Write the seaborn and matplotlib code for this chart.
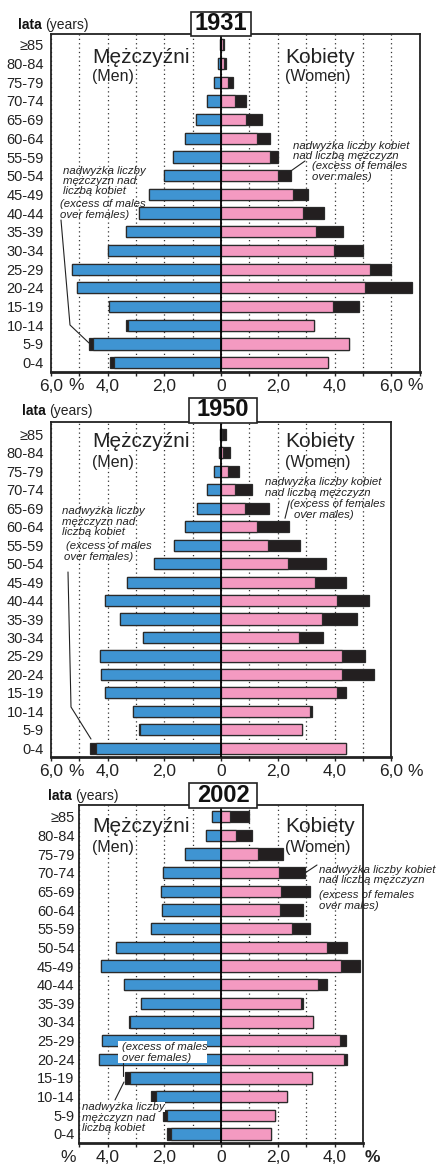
import matplotlib
matplotlib.use("Agg")
import matplotlib.pyplot as plt
import seaborn as sns
import pandas as pd
from matplotlib.lines import Line2D
from matplotlib.patches import Rectangle

ages = ["≥85", "80-84", "75-79", "70-74", "65-69", "60-64", "55-59", "50-54", "45-49",
        "40-44", "35-39", "30-34", "25-29", "20-24", "15-19", "10-14", "5-9", "0-4"]

# share of population in % (top row = oldest)
men_1931 = [0.05, 0.10, 0.25, 0.49, 0.89, 1.27, 1.71, 2.02, 2.54,
            2.89, 3.36, 3.99, 5.25, 5.07, 3.96, 3.36, 4.66, 3.92]
women_1931 = [0.10, 0.17, 0.42, 0.89, 1.44, 1.73, 2.02, 2.46, 3.06,
              3.64, 4.31, 5.02, 5.99, 6.74, 4.88, 3.28, 4.51, 3.77]

men_1950 = [0.03, 0.07, 0.25, 0.48, 0.85, 1.26, 1.66, 2.35, 3.32,
            4.08, 3.55, 2.75, 4.27, 4.25, 4.08, 3.12, 2.91, 4.62]
women_1950 = [0.16, 0.31, 0.64, 1.09, 1.68, 2.38, 2.80, 3.69, 4.39,
              5.21, 4.81, 3.61, 5.08, 5.38, 4.39, 3.21, 2.87, 4.42]

men_2002 = [0.32, 0.52, 1.29, 2.05, 2.12, 2.08, 2.49, 3.72, 4.22,
            3.41, 2.82, 3.24, 4.19, 4.32, 3.39, 2.46, 2.04, 1.92]
women_2002 = [0.99, 1.08, 2.18, 2.96, 3.13, 2.88, 3.15, 4.45, 4.89,
              3.74, 2.87, 3.23, 4.39, 4.44, 3.22, 2.31, 1.91, 1.77]

BLUE = "#3f94d2"
PINK = "#f49ac1"
BLACK = "#231f20"
EDGE = "#2a2a2a"

W, H = 436, 1166

sns.set_theme(style="white")
plt.rcParams["font.family"] = ["Liberation Sans", "DejaVu Sans"]

fig = plt.figure(figsize=(W / 100, H / 100), dpi=100)


def fx(x):
    return x / W


def fy(y):
    return 1 - y / H


def add_axes(left, right, top, bottom):
    return fig.add_axes([fx(left), fy(bottom), (right - left) / W, (bottom - top) / H])


def pyramid(ax, men, women, xlim, ylim, label_pad):
    df = pd.DataFrame({"age": ages, "men": men, "women": women})
    df["common"] = df[["men", "women"]].min(axis=1)
    layers = [("men", -1, BLACK), ("women", 1, BLACK), ("common", -1, BLUE), ("common", 1, PINK)]
    for col, sign, color in layers:
        sns.barplot(x=sign * df[col], y=df["age"], order=ages, orient="h", color=color,
                    saturation=1, width=0.6, edgecolor=EDGE, linewidth=0.9,
                    errorbar=None, ax=ax)
    ax.axvline(0, color="black", lw=1.3, zorder=5)
    ax.set_xlim(*xlim)
    ax.set_ylim(*ylim)
    ticks = list(range(xlim[0], xlim[1] + 1))
    ax.set_xticks(ticks)
    labels = []
    for t in ticks:
        if t == 0:
            labels.append("0")
        elif t % 2 == 0:
            labels.append(f"{abs(t)},0")
        else:
            labels.append("")
    ax.set_xticklabels(labels)
    ax.set_xlabel("")
    ax.set_ylabel("")
    ax.set_axisbelow(True)
    ax.grid(axis="x", color="#333333", linestyle=(0, (1, 2.5)), linewidth=0.9)
    ax.grid(axis="y", visible=False)
    ax.tick_params(axis="x", direction="out", length=3, width=1, colors="#222222",
                   labelsize=12.5, pad=2, bottom=True)
    ax.tick_params(axis="y", length=0, labelsize=10.5, pad=label_pad, labelcolor="#222222")
    for side, sp in ax.spines.items():
        sp.set_visible(True)
        sp.set_color("#222222")
        sp.set_linewidth(2.0 if side == "bottom" else 1.3)


def note(x, y, s, **kw):
    fig.text(fx(x), fy(y), s, fontsize=8.2, style="italic", color="#222222",
             va="baseline", ha="left", **kw)


def leader(xs, ys):
    fig.add_artist(Line2D([fx(v) for v in xs], [fy(v) for v in ys],
                          transform=fig.transFigure, color="#222222", lw=0.8, zorder=12))


def year_box(x0, x1, y0, y1, year):
    fig.add_artist(Rectangle((fx(x0), fy(y1)), (x1 - x0) / W, (y1 - y0) / H,
                             transform=fig.transFigure, facecolor="white",
                             edgecolor="#222222", lw=1.2, zorder=10))
    fig.text(fx((x0 + x1) / 2), fy((y0 + y1) / 2 - 0.5), year, fontsize=17, weight="bold",
             ha="center", va="center", color="#111111", zorder=11)


def headings(x_lata, y_lata, y_big, y_small):
    t = fig.text(fx(x_lata), fy(y_lata), "lata", fontsize=10, weight="bold",
                 va="baseline", color="#111111")
    fig.canvas.draw()
    bb = t.get_window_extent()
    fig.text(bb.x1 / W + 3 / W, fy(y_lata), "(years)", fontsize=10, va="baseline",
             color="#222222")
    fig.text(fx(92), fy(y_big), "Mężczyźni", fontsize=15, va="baseline", color="#222222")
    fig.text(fx(92), fy(y_small), "(Men)", fontsize=11.5, va="baseline", color="#222222")
    fig.text(fx(285), fy(y_big), "Kobiety", fontsize=15, va="baseline", color="#222222")
    fig.text(fx(285), fy(y_small), "(Women)", fontsize=11.5, va="baseline", color="#222222")


def percent(x, y, **kw):
    fig.text(fx(x), fy(y), "%", fontsize=12.5, ha="center", va="center", color="#222222", **kw)


# ---- 1931 ----
ax1 = add_axes(51, 419.6, 34, 372)
pyramid(ax1, men_1931, women_1931, (-6, 7), (17.5, -0.58), 5)
headings(18, 29, 63, 81)
year_box(191, 251, 12, 36, "1931")
percent(76, 386)
percent(415, 386)
note(293, 149, "nadwyżka liczby kobiet")
note(293, 159, "nad liczbą mężczyzn")
note(312, 169, "(excess of females")
note(312, 180, "over males)")
leader([305, 288], [161, 173])
note(63, 174, "nadwyżka liczby")
note(63, 184, "mężczyzn nad")
note(63, 194, "liczbą kobiet")
note(60, 207, "(excess of males")
note(60, 218, "over females)")
leader([61, 70, 89], [220, 325, 343])

# ---- 1950 ----
ax2 = add_axes(51, 391.2, 421.7, 756.7)
pyramid(ax2, men_1950, women_1950, (-6, 6), (17.45, -0.68), 5)
headings(22, 415, 446.7, 466.7)
year_box(189, 257, 398, 423, "1950")
percent(76, 772)
percent(415, 772)
note(265, 485, "nadwyżka liczby kobiet")
note(265, 495.7, "nad liczbą mężczyzn")
note(290, 507.3, "(excess of females")
note(294, 518, "over males)")
leader([289.3, 285], [501, 518.3])
note(62, 514, "nadwyżka liczby")
note(62, 525, "mężczyzn nad")
note(62, 535, "liczbą kobiet")
note(66, 549, "(excess of males")
note(64, 560, "over females)")
leader([68, 71, 91], [572, 707, 739])

# ---- 2002 ----
ax3 = add_axes(79.35, 362.9, 805, 1142.7)
pyramid(ax3, men_2002, women_2002, (-5, 5), (17.47, -0.63), 3.5)
headings(48, 800, 831.7, 851.7)
year_box(189, 257, 783, 808, "2002")
percent(68, 1157)
percent(372, 1157, weight="bold")
note(319, 872.7, "nadwyżka liczby kobiet")
note(319, 882.7, "nad liczbą mężczyzn")
note(319, 898.3, "(excess of females")
note(319, 909, "over males)")
leader([305, 317], [873, 865])
fig.add_artist(Rectangle((fx(118), fy(1063)), 89 / W, 22 / H, transform=fig.transFigure,
                         facecolor="white", edgecolor="none", zorder=9))
note(122, 1050, "(excess of males", zorder=11)
note(122, 1060.7, "over females)", zorder=11)
leader([123.3, 123.3], [1063, 1076])
leader([115, 124], [1100, 1082])
for yb, s in [(1110, "nadwyżka liczby"), (1120.7, "mężczyzn nad"), (1131, "liczbą kobiet")]:
    note(82, yb, s, zorder=11,
         bbox=dict(facecolor="white", edgecolor="none", pad=0.3))

fig.savefig("out.png", dpi=100)
